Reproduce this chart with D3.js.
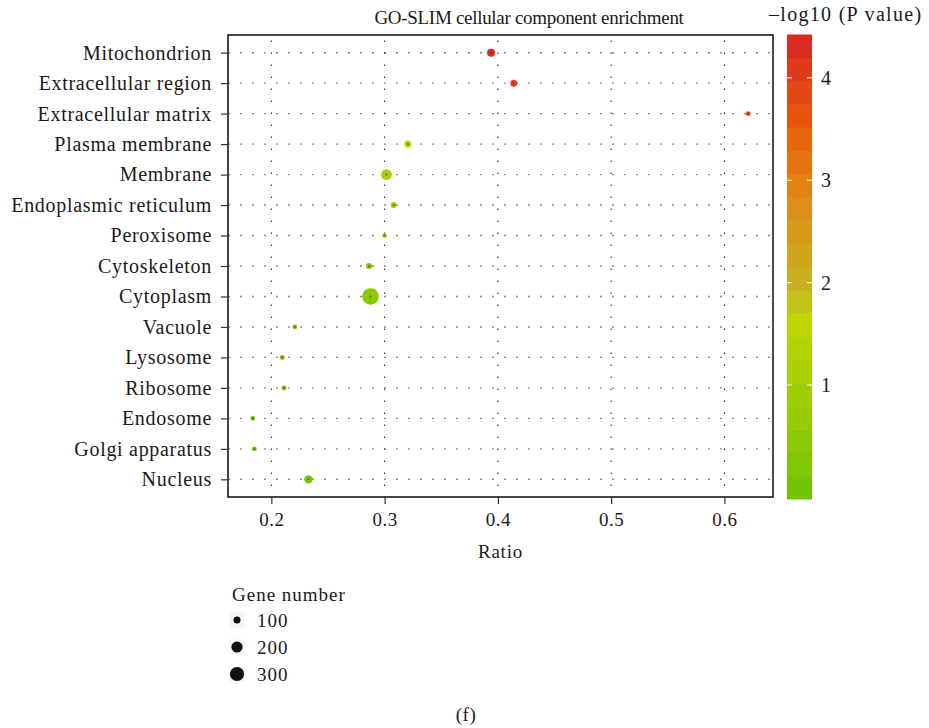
<!DOCTYPE html>
<html>
<head>
<meta charset="utf-8">
<script src="https://cdn.jsdelivr.net/npm/d3@7"></script>
<style>
  body { margin: 0; background: #fff; }
  svg text { font-family: "Liberation Serif", "Times New Roman", serif; fill: #1a1a1a; }
</style>
</head>
<body>
<svg id="chart" width="929" height="728"></svg>
<script>
// GO-SLIM cellular component terms, top to bottom
const terms = [
  "Mitochondrion", "Extracellular region", "Extracellular matrix", "Plasma membrane",
  "Membrane", "Endoplasmic reticulum", "Peroxisome", "Cytoskeleton", "Cytoplasm",
  "Vacuole", "Lysosome", "Ribosome", "Endosome", "Golgi apparatus", "Nucleus"
];
const ratios = [0.394, 0.414, 0.621, 0.3205, 0.3016, 0.308, 0.300, 0.2863, 0.2875,
  0.2207, 0.2097, 0.2112, 0.1836, 0.185, 0.2327];
const geneCounts = [120, 100, 68, 104, 189, 83, 61, 86, 398, 66, 68, 68, 63, 66, 128];
const logP = [4.31, 3.95, 3.65, 1.4, 1.1, 0.9, 0.6, 0.35, 0.5, 0.55, 0.3, 0.4, 0.0, 0.25, 0.15];

const xTicks = [0.2, 0.3, 0.4, 0.5, 0.6];
const colorTicks = [1, 2, 3, 4];
const sizeLegend = [100, 200, 300];

// colour ramp for -log10(P)
const rampStops = [0, 1.6, 2.0, 3.0, 3.6, 4.31];
const rampColors = ["#72c400", "#bed600", "#c6b122", "#e47f10", "#e8560b", "#db2a20"];

const data = terms.map((term, i) => ({
  term, ratio: ratios[i], genes: geneCounts[i], p: logP[i]
}));

const svg = d3.select("#chart");
const plot = { left: 228, right: 773, top: 35, bottom: 497 };

// ggplot-style 5% expansion on the ratio axis
const [rMin, rMax] = d3.extent(ratios);
const pad = (rMax - rMin) * 0.05;
const x = d3.scaleLinear().domain([rMin - pad, rMax + pad]).range([plot.left, plot.right]);
const y = d3.scalePoint().domain(terms).range([plot.top, plot.bottom]).padding(0.58);

const color = d3.scaleLinear().domain(rampStops).range(rampColors).interpolate(d3.interpolateLab);
const pExtent = d3.extent(logP);

// circle area grows linearly with gene number
const area = d3.scaleLinear().domain([100, 300]).range([12.25, 50.4]);
const radius = (n) => Math.sqrt(Math.max(area(n), 1));

function label(sel, size, spacing) {
  return sel.style("font-size", size + "px").style("letter-spacing", spacing + "px");
}

// grid
const grid = svg.append("g");
grid.selectAll("line.h")
  .data(terms)
  .join("line")
  .attr("x1", plot.left).attr("x2", plot.right)
  .attr("y1", (d) => y(d)).attr("y2", (d) => y(d))
  .attr("stroke", "#8c8c8c")
  .attr("stroke-width", 1.4)
  .attr("stroke-dasharray", "2,10")
  .attr("stroke-dashoffset", -12);

grid.selectAll("line.v")
  .data(xTicks)
  .join("line")
  .attr("x1", (d) => x(d)).attr("x2", (d) => x(d))
  .attr("y1", plot.top).attr("y2", plot.bottom)
  .attr("stroke", "#222")
  .attr("stroke-width", 1)
  .attr("stroke-dasharray", "1.5,10.5")
  .attr("stroke-dashoffset", -5.5);

// points
const points = svg.append("g");
points.selectAll("circle")
  .data(data)
  .join("circle")
  .attr("cx", (d) => x(d.ratio))
  .attr("cy", (d) => y(d.term))
  .attr("r", (d) => radius(d.genes))
  .attr("fill", (d) => color(d.p));

points.selectAll("rect")
  .data(data)
  .join("rect")
  .attr("x", (d) => x(d.ratio) - 1)
  .attr("y", (d) => y(d.term) - 1)
  .attr("width", 2)
  .attr("height", 2)
  .attr("fill", "#333")
  .attr("opacity", 0.55);

// frame
svg.append("rect")
  .attr("x", plot.left).attr("y", plot.top)
  .attr("width", plot.right - plot.left)
  .attr("height", plot.bottom - plot.top)
  .attr("fill", "none")
  .attr("stroke", "#1a1a1a")
  .attr("stroke-width", 1.6);

// axes
const yAxis = svg.append("g")
  .attr("transform", `translate(${plot.left},0)`)
  .call(d3.axisLeft(y).tickSize(7).tickPadding(9));
const xAxis = svg.append("g")
  .attr("transform", `translate(0,${plot.bottom})`)
  .call(d3.axisBottom(x).tickValues(xTicks).tickFormat(d3.format(".1f")).tickSize(7).tickPadding(9));

[yAxis, xAxis].forEach((axis) => {
  axis.select(".domain").remove();
  axis.selectAll(".tick line").attr("stroke", "#333").attr("stroke-width", 1.2);
  axis.selectAll("text")
    .attr("fill", "#1a1a1a")
    .style("font-family", "Liberation Serif, serif");
});
label(yAxis.selectAll("text"), 20, 0.7);
label(xAxis.selectAll("text"), 19, 0.5);

// titles
label(svg.append("text"), 19, -0.3)
  .attr("x", 529)
  .attr("y", 24)
  .attr("text-anchor", "middle")
  .text("GO-SLIM cellular component enrichment");

label(svg.append("text"), 19, 0.8)
  .attr("x", (plot.left + plot.right) / 2)
  .attr("y", 558)
  .attr("text-anchor", "middle")
  .text("Ratio");

// colour bar, 20 bins
const bar = { x: 787, y: 34.5, w: 25, h: 464.5, bins: 20 };
const binH = bar.h / bar.bins;
const binValue = d3.scaleLinear().domain([0, bar.bins - 1]).range(pExtent);
const barScale = d3.scaleLinear()
  .domain(pExtent)
  .range([bar.y + bar.h - binH / 2, bar.y + binH / 2]);

const colorBar = svg.append("g");
colorBar.selectAll("rect")
  .data(d3.range(bar.bins))
  .join("rect")
  .attr("x", bar.x)
  .attr("y", (i) => bar.y + bar.h - (i + 1) * binH)
  .attr("width", bar.w)
  .attr("height", binH + 0.5)
  .attr("fill", (i) => color(binValue(i)));

colorTicks.forEach((t) => {
  const ty = barScale(t);
  [[bar.x, bar.x + 5], [bar.x + bar.w - 5, bar.x + bar.w]].forEach(([a, b]) => {
    colorBar.append("line")
      .attr("x1", a).attr("x2", b)
      .attr("y1", ty).attr("y2", ty)
      .attr("stroke", "#fff")
      .attr("stroke-width", 1);
  });
  label(colorBar.append("text"), 20, 0)
    .attr("x", 821)
    .attr("y", ty)
    .attr("dy", "0.35em")
    .text(t);
});

label(svg.append("text"), 20, 1.3)
  .attr("x", 769)
  .attr("y", 21)
  .text("\u2013log10 (P value)");

// gene number legend
const sizeKey = svg.append("g");
label(sizeKey.append("text"), 19, 1)
  .attr("x", 232)
  .attr("y", 601)
  .text("Gene number");

const keyY = d3.scalePoint().domain(sizeLegend).range([620, 674]);
sizeLegend.forEach((n) => {
  sizeKey.append("rect")
    .attr("x", 229.5).attr("y", keyY(n) - 7.5)
    .attr("width", 15).attr("height", 15)
    .attr("fill", "#f4f4f4");
  sizeKey.append("circle")
    .attr("cx", 237).attr("cy", keyY(n))
    .attr("r", radius(n))
    .attr("fill", "#111");
  label(sizeKey.append("text"), 19, 1)
    .attr("x", 257).attr("y", keyY(n))
    .attr("dy", "0.35em")
    .text(n);
});

label(svg.append("text"), 19, 0.5)
  .attr("x", 466)
  .attr("y", 721)
  .attr("text-anchor", "middle")
  .text("(f)");
</script>
</body>
</html>
